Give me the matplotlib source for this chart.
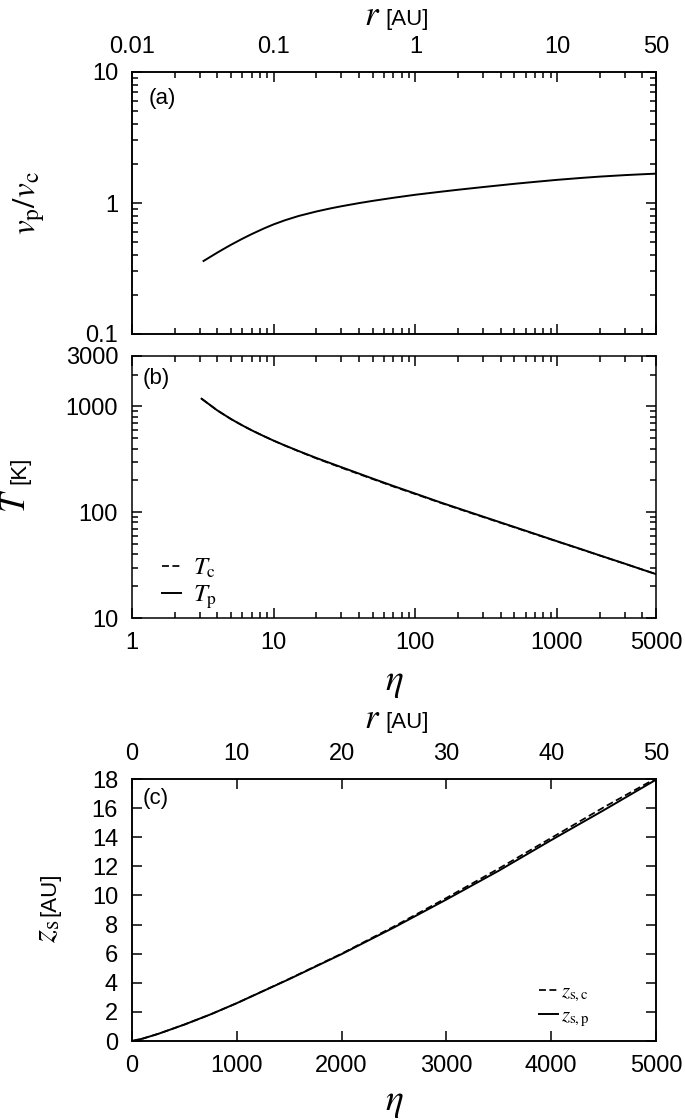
import numpy as np
import matplotlib
matplotlib.use("Agg")
import matplotlib.pyplot as plt
from matplotlib.ticker import LogLocator, NullFormatter

# panel (a): velocity ratio v_p/v_c against eta
eta_v = [3.2, 3.6, 4, 4.5, 5, 6, 7, 8.5, 10, 12, 15, 20, 25, 30, 40, 50, 70,
         100, 150, 200, 300, 500, 700, 1000, 1500, 2000, 3000, 4000, 5000]
v_ratio = [0.361, 0.390, 0.418, 0.450, 0.480, 0.533, 0.579, 0.638, 0.687, 0.738,
           0.796, 0.861, 0.908, 0.944, 0.998, 1.038, 1.096, 1.156, 1.218, 1.262,
           1.323, 1.401, 1.450, 1.502, 1.555, 1.590, 1.632, 1.657, 1.675]

# panel (b): temperature [K] against eta
eta_T = [3.1, 4, 5, 6, 7, 8.5, 10, 12, 15, 20, 25, 30, 40, 50, 70, 100, 150,
         200, 300, 500, 700, 1000, 1500, 2000, 3000, 4000, 5000]
T_p = [1183, 918, 760, 663, 595, 525, 475, 428, 379, 326, 292, 267, 232, 208,
       177, 150, 124, 109, 91, 72.5, 62.4, 53.2, 44.5, 39.1, 32.7, 28.7, 26.0]
T_c = [1183, 918, 760, 663, 595, 525, 475, 427, 377, 323, 289, 264, 229.5, 206,
       175, 148.5, 123, 108, 90.2, 72, 62, 53, 44.3, 39, 32.6, 28.7, 26.0]

# panel (c): z_s [AU] against eta
eta_z = [0, 100, 250, 500, 750, 1000, 1500, 2000, 2500, 3000, 3500, 4000, 4500, 5000]
zs_p = [0, 0.16, 0.49, 1.13, 1.83, 2.6, 4.25, 5.97, 7.8, 9.72, 11.7, 13.8, 15.85, 17.95]
zs_c = [0, 0.16, 0.49, 1.13, 1.83, 2.6, 4.27, 6.0, 7.87, 9.83, 11.85, 13.95, 16.05, 18.05]

eta_ticks_log = [1, 10, 100, 1000, 5000]
eta_labels_log = ["1", "10", "100", "1000", "5000"]
r_ticks_log = [0.01, 0.1, 1, 10, 50]
r_labels_log = ["0.01", "0.1", "1", "10", "50"]
v_ticks = [0.1, 1, 10]
v_labels = ["0.1", "1", "10"]
T_ticks = [10, 100, 1000, 3000]
T_labels = ["10", "100", "1000", "3000"]
eta_ticks_lin = [0, 1000, 2000, 3000, 4000, 5000]
r_ticks_lin = [0, 10, 20, 30, 40, 50]
zs_ticks = [0, 2, 4, 6, 8, 10, 12, 14, 16, 18]

plt.rcParams['font.family'] = ['Liberation Sans', 'DejaVu Sans']
plt.rcParams['mathtext.fontset'] = 'stix'
plt.rcParams['font.size'] = 17

W_PX, H_PX = 685, 1120
fig = plt.figure(figsize=(6.85, 11.2), dpi=100)


def box(top, bottom):
    return [132 / W_PX, 1 - bottom / H_PX, 524 / W_PX, (bottom - top) / H_PX]


def px(x, y):
    return x / W_PX, 1 - y / H_PX


def style(ax, **kw):
    ax.tick_params(which='both', direction='in', width=1.1, **kw)
    ax.tick_params(which='major', length=7.5, pad=10)
    ax.tick_params(which='minor', length=4.3)
    for s in ax.spines.values():
        s.set_linewidth(1.1)


def minor_log(axis):
    axis.set_minor_locator(LogLocator(base=10, subs=np.arange(2, 10), numticks=30))
    axis.set_minor_formatter(NullFormatter())


solid = dict(color='black', lw=1.4)
dashed = dict(color='black', lw=1.25, linestyle=(0, (4, 2)))

# ---- (a)
ax_a = fig.add_axes(box(72, 334))
ax_a.plot(eta_v, v_ratio, **solid)
ax_a.set_xscale('log')
ax_a.set_yscale('log')
ax_a.set_xlim(1, 5000)
ax_a.set_ylim(0.1, 10)
ax_a.set_xticks(eta_ticks_log)
ax_a.set_yticks(v_ticks, labels=v_labels)
minor_log(ax_a.xaxis)
minor_log(ax_a.yaxis)
style(ax_a, right=True, labelbottom=False)
ax_a.set_ylabel(r'$v_{\rm p}/v_{\rm c}$', fontsize=24)
ax_a.yaxis.set_label_coords(-0.162, 0.5)
ax_a.text(0.032, 0.94, '(a)', transform=ax_a.transAxes, ha='left', va='top', fontsize=16)

ax_ar = ax_a.twiny()
ax_ar.set_xscale('log')
ax_ar.set_xlim(0.01, 50)
ax_ar.set_xticks(r_ticks_log, labels=r_labels_log)
minor_log(ax_ar.xaxis)
style(ax_ar)
fig.text(*px(380, 25), '$r$', ha='right', va='baseline', fontsize=25)
fig.text(*px(385, 25), '[AU]', ha='left', va='baseline', fontsize=16)

# ---- (b)
ax_b = fig.add_axes(box(356, 618))
ax_b.plot(eta_T, T_c, label=r'$T_{\rm c}$', **dashed)
ax_b.plot(eta_T, T_p, label=r'$T_{\rm p}$', **solid)
ax_b.set_xscale('log')
ax_b.set_yscale('log')
ax_b.set_xlim(1, 5000)
ax_b.set_ylim(10, 3000)
ax_b.set_xticks(eta_ticks_log, labels=eta_labels_log)
ax_b.set_yticks(T_ticks, labels=T_labels)
minor_log(ax_b.xaxis)
minor_log(ax_b.yaxis)
style(ax_b, top=True, right=True)
ax_b.set_xlabel(r'$\eta$', fontsize=27)
ax_b.xaxis.set_label_coords(0.5, -0.175)
ax_b.text(0.021, 0.955, '(b)', transform=ax_b.transAxes, ha='left', va='top', fontsize=16)
ax_b.legend(loc='lower left', bbox_to_anchor=(0.057, 0.025), frameon=False,
            fontsize=18, handlelength=0.75, handletextpad=0.5, labelspacing=0.12,
            borderpad=0, borderaxespad=0)
fig.text(*px(25, 513), '$T$', rotation=90, rotation_mode='anchor',
         ha='left', va='baseline', fontsize=25)
fig.text(*px(25, 484), '[K]', rotation=90, rotation_mode='anchor',
         ha='left', va='baseline', fontsize=16)

# ---- (c)
ax_c = fig.add_axes(box(779, 1041))
ax_c.plot(eta_z, zs_c, label=r'$z_{\rm s,c}$', **dashed)
ax_c.plot(eta_z, zs_p, label=r'$z_{\rm s,p}$', **solid)
ax_c.set_xlim(0, 5000)
ax_c.set_ylim(0, 18)
ax_c.set_xticks(eta_ticks_lin)
ax_c.set_yticks(zs_ticks)
style(ax_c, right=True)
ax_c.set_xlabel(r'$\eta$', fontsize=27)
ax_c.xaxis.set_label_coords(0.5, -0.165)
ax_c.text(0.021, 0.965, '(c)', transform=ax_c.transAxes, ha='left', va='top', fontsize=16)
ax_c.legend(loc='lower right', bbox_to_anchor=(0.874, 0.045), frameon=False,
            fontsize=15, handlelength=0.95, handletextpad=0.15, labelspacing=0.1,
            borderpad=0, borderaxespad=0)

ax_cr = ax_c.twiny()
ax_cr.set_xlim(0, 50)
ax_cr.set_xticks(r_ticks_lin)
style(ax_cr)
fig.text(*px(380, 728), '$r$', ha='right', va='baseline', fontsize=25)
fig.text(*px(385, 728), '[AU]', ha='left', va='baseline', fontsize=16)
fig.text(*px(55, 943), r'$z_{\rm s}$', rotation=90, rotation_mode='anchor',
         ha='left', va='baseline', fontsize=24)
fig.text(*px(55, 916), '[AU]', rotation=90, rotation_mode='anchor',
         ha='left', va='baseline', fontsize=16)

fig.savefig('out.png', dpi=100)
